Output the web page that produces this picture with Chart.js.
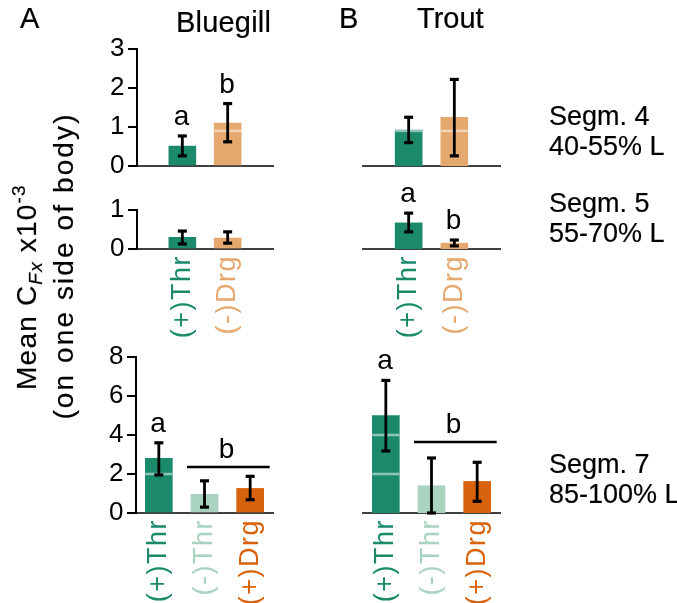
<!DOCTYPE html>
<html>
<head>
<meta charset="utf-8">
<script src="https://cdn.jsdelivr.net/npm/chart.js@4"></script>
<style>
  body { margin: 0; background: #fff; }
  #wrap { position: relative; width: 677px; height: 603px; overflow: hidden; font-family: "Liberation Sans", Arial, sans-serif; color: #000; }
  canvas { position: absolute; left: 0; top: 0; }
  .txt { position: absolute; white-space: nowrap; -webkit-text-stroke: 0.2px #000; }
  .big { font-size: 29px; line-height: 29px; }
  .seg { font-size: 27px; line-height: 30px; }
  .ytitle { font-size: 28px; line-height: 28px; width: 360px; height: 28px; text-align: center; transform: rotate(-90deg); }
  .sub { font-size: 19px; font-style: italic; position: relative; top: 6px; }
  .sup { font-size: 19px; position: relative; top: -11px; }
</style>
</head>
<body>
<div id="wrap">
  <canvas id="bg4" width="677" height="603"></canvas>
  <canvas id="tr4" width="677" height="603"></canvas>
  <canvas id="bg5" width="677" height="603"></canvas>
  <canvas id="tr5" width="677" height="603"></canvas>
  <canvas id="bg7" width="677" height="603"></canvas>
  <canvas id="tr7" width="677" height="603"></canvas>

  <div class="txt big" style="left:20px;top:4px">A</div>
  <div class="txt big" style="left:176px;top:8px;letter-spacing:0.2px">Bluegill</div>
  <div class="txt big" style="left:339px;top:4px">B</div>
  <div class="txt big" style="left:417px;top:4px">Trout</div>

  <div class="txt seg" style="left:549px;top:101px">Segm. 4<br>40-55% L</div>
  <div class="txt seg" style="left:549px;top:188px">Segm. 5<br>55-70% L</div>
  <div class="txt seg" style="left:549px;top:449px">Segm. 7<br>85-100% L</div>

  <div class="txt ytitle" style="left:-153px;top:273px;letter-spacing:1.2px">Mean C<span class="sub">Fx</span> x10<span class="sup">-3</span></div>
  <div class="txt ytitle" style="left:-116px;top:252px;letter-spacing:2.1px">(on one side of body)</div>
</div>
<script>
const FONT = '"Liberation Sans", Arial, sans-serif';

// categories
const pairLabels = ['(+)Thr', '(-)Drg'];
const trioLabels = ['(+)Thr', '(-)Thr', '(+)Drg'];
const pairSlots = [0.5, 1.5];
const trioSlots = [0, 1, 2];

// segment 4 (40-55% L)
const bluegill4 = [0.51, 1.1];
const bluegill4Lo = [0.26, 0.62];
const bluegill4Hi = [0.77, 1.6];
const bluegill4Stripes = [[], [0.9]];
const bluegill4Letters = ['a', 'b'];
const trout4 = [0.92, 1.25];
const trout4Lo = [0.6, 0.26];
const trout4Hi = [1.25, 2.22];
const trout4Stripes = [[0.9], [0.9]];
const trout4Letters = ['', ''];

// segment 5 (55-70% L)
const bluegill5 = [0.3, 0.28];
const bluegill5Lo = [0.13, 0.15];
const bluegill5Hi = [0.46, 0.44];
const trout5 = [0.67, 0.15];
const trout5Lo = [0.44, 0.08];
const trout5Hi = [0.92, 0.23];
const trout5Letters = ['a', 'b'];

// segment 7 (85-100% L)
const bluegill7 = [2.8, 0.96, 1.26];
const bluegill7Lo = [1.95, 0.3, 0.68];
const bluegill7Hi = [3.6, 1.65, 1.88];
const bluegill7Stripes = [[2], [], []];
const bluegill7Letters = ['a', '', ''];
const bluegill7Bracket = 2.36;
const trout7 = [5.0, 1.4, 1.62];
const trout7Lo = [3.18, 0, 0.6];
const trout7Hi = [6.8, 2.82, 2.6];
const trout7Stripes = [[2, 4], [], []];
const trout7Letters = ['a', '', ''];
const trout7Bracket = 3.64;

// y ticks
const yMax4 = 3, yStep4 = 1;
const yMax5 = 1, yStep5 = 1;
const yMax7 = 8, yStep7 = 2;

const pairColors = ['#1b8a6b', '#e5a86f'];
const trioColors = ['#1b8a6b', '#aad3bf', '#d9620c'];

function line(ctx, x1, y1, x2, y2) {
  ctx.beginPath(); ctx.moveTo(x1, y1); ctx.lineTo(x2, y2); ctx.stroke();
}

function drawDecor(chart, p) {
  const ctx = chart.ctx, y = chart.scales.y;
  const bars = chart.getDatasetMeta(0).data;
  ctx.save();
  ctx.lineCap = 'butt';
  ctx.strokeStyle = 'rgba(255,255,255,0.5)';
  ctx.lineWidth = 2.5;
  (p.stripes || []).forEach((list, i) => list.forEach(v => {
    const b = bars[i], yy = y.getPixelForValue(v);
    line(ctx, b.x - b.width / 2, yy, b.x + b.width / 2, yy);
  }));
  ctx.strokeStyle = '#000';
  p.values.forEach((v, i) => {
    const cx = bars[i].x, lo = y.getPixelForValue(p.lo[i]), hi = y.getPixelForValue(p.hi[i]);
    ctx.lineWidth = 2.8; line(ctx, cx, lo, cx, hi);
    ctx.lineWidth = 3.2; line(ctx, cx - 4.5, lo, cx + 4.5, lo); line(ctx, cx - 4.5, hi, cx + 4.5, hi);
  });
  ctx.fillStyle = '#000';
  ctx.font = '28px ' + FONT;
  ctx.textAlign = 'center';
  ctx.textBaseline = 'alphabetic';
  (p.letters || []).forEach((t, i) => {
    if (t) ctx.fillText(t, bars[i].x, y.getPixelForValue(p.hi[i]) - 11);
  });
  if (p.bracket !== undefined) {
    const a = bars[1], b = bars[2], yy = y.getPixelForValue(p.bracket);
    ctx.lineWidth = 2.6;
    line(ctx, a.x - a.width / 2 - 4, yy, b.x + b.width / 2 + 6, yy);
    ctx.fillText('b', (a.x + b.x) / 2, yy - 9);
  }
  ctx.restore();
}

function makePanel(id, p) {
  const yW = p.showY ? 57 : 0;
  const xH = p.showX ? 95 : 0;
  const [left, top, right, bottom] = p.area;
  new Chart(document.getElementById(id), {
    type: 'bar',
    data: {
      datasets: [{
        data: p.values.map((v, i) => ({ x: p.slots[i], y: v })),
        backgroundColor: p.colors,
        borderWidth: 0,
        barThickness: 27
      }]
    },
    options: {
      responsive: false,
      animation: false,
      events: [],
      layout: { padding: { left: left - yW, top: top, right: 677 - right, bottom: 603 - bottom - xH } },
      plugins: { legend: { display: false }, tooltip: { enabled: false } },
      scales: {
        x: {
          type: 'linear', min: -0.5, max: 2.5, offset: false,
          afterBuildTicks: s => { s.ticks = p.slots.map(v => ({ value: v })); },
          afterFit: s => { s.height = xH; },
          grid: { display: false, drawTicks: false },
          border: { display: true, color: '#404040', width: 2 },
          ticks: {
            display: p.showX, autoSkip: false, minRotation: 90, maxRotation: 90, padding: 6,
            font: { size: 27, family: FONT },
            color: c => p.colors[c.index],
            callback: (v, i) => p.labels[i]
          }
        },
        y: {
          display: p.showY, min: 0, max: p.yMax,
          afterFit: s => { s.width = yW; },
          ticks: { stepSize: p.yStep, padding: 2, font: { size: 26, family: FONT }, color: '#000' },
          grid: { drawOnChartArea: false, drawTicks: true, tickLength: 9, color: '#000', lineWidth: 2 },
          border: { display: true, color: '#000', width: 2 }
        }
      }
    },
    plugins: [
      { id: 'spacing', beforeDraw: c => { c.ctx.letterSpacing = '1.5px'; } },
      { id: 'decor', afterDatasetsDraw: c => drawDecor(c, p) }
    ]
  });
}

makePanel('bg4', { area: [137, 49, 273, 166], showY: true, showX: false, yMax: yMax4, yStep: yStep4,
  labels: pairLabels, slots: pairSlots, colors: pairColors,
  values: bluegill4, lo: bluegill4Lo, hi: bluegill4Hi, stripes: bluegill4Stripes, letters: bluegill4Letters });
makePanel('tr4', { area: [363, 49, 500, 166], showY: false, showX: false, yMax: yMax4, yStep: yStep4,
  labels: pairLabels, slots: pairSlots, colors: pairColors,
  values: trout4, lo: trout4Lo, hi: trout4Hi, stripes: trout4Stripes, letters: trout4Letters });
makePanel('bg5', { area: [137, 210, 273, 249], showY: true, showX: true, yMax: yMax5, yStep: yStep5,
  labels: pairLabels, slots: pairSlots, colors: pairColors,
  values: bluegill5, lo: bluegill5Lo, hi: bluegill5Hi });
makePanel('tr5', { area: [363, 210, 500, 249], showY: false, showX: true, yMax: yMax5, yStep: yStep5,
  labels: pairLabels, slots: pairSlots, colors: pairColors,
  values: trout5, lo: trout5Lo, hi: trout5Hi, letters: trout5Letters });
makePanel('bg7', { area: [136, 357, 273, 513], showY: true, showX: true, yMax: yMax7, yStep: yStep7,
  labels: trioLabels, slots: trioSlots, colors: trioColors,
  values: bluegill7, lo: bluegill7Lo, hi: bluegill7Hi, stripes: bluegill7Stripes, letters: bluegill7Letters, bracket: bluegill7Bracket });
makePanel('tr7', { area: [363, 357, 500, 513], showY: false, showX: true, yMax: yMax7, yStep: yStep7,
  labels: trioLabels, slots: trioSlots, colors: trioColors,
  values: trout7, lo: trout7Lo, hi: trout7Hi, stripes: trout7Stripes, letters: trout7Letters, bracket: trout7Bracket });
</script>
</body>
</html>
